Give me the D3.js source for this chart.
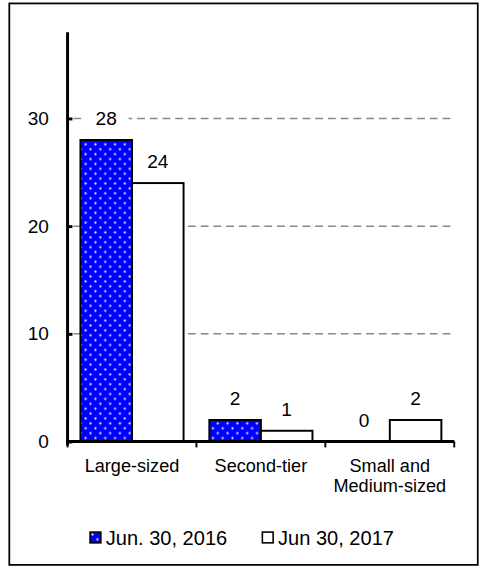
<!DOCTYPE html>
<html>
<head>
<meta charset="utf-8">
<script src="https://cdn.jsdelivr.net/npm/d3@7"></script>
<style>
  html, body { margin: 0; padding: 0; background: #fff; }
  svg { display: block; font-family: "Liberation Sans", Arial, sans-serif; }
</style>
</head>
<body>
<svg id="chart" width="484" height="578"></svg>
<script>
const categories = ["Large-sized", "Second-tier", "Small and\nMedium-sized"];
const seriesNames = ["Jun. 30, 2016", "Jun 30, 2017"];
const values2016 = [28, 2, 0];
const values2017 = [24, 1, 2];
const yTicks = [0, 10, 20, 30];
const yMax = 38;

const root = d3.select("#chart").append("g").attr("transform", "scale(0.979)");
const svg = root;

// frame
svg.append("rect").attr("x", 9.5).attr("y", 3.5).attr("width", 478.5).attr("height", 573.5)
  .attr("fill", "none").attr("stroke", "#000").attr("stroke-width", 1.8);

const defs = d3.select("#chart").append("defs");
const pat = defs.append("pattern").attr("id", "dots")
  .attr("width", 10).attr("height", 10).attr("patternUnits", "userSpaceOnUse");
pat.append("rect").attr("width", 10).attr("height", 10).attr("fill", "#0000ff");
pat.append("circle").attr("cx", 2.5).attr("cy", 2.5).attr("r", 1.15).attr("fill", "#e6e6ff");
pat.append("circle").attr("cx", 7.5).attr("cy", 7.5).attr("r", 1.15).attr("fill", "#e6e6ff");

const x0 = 69, x1 = 464, yBase = 451, yTop = 33;
const x = d3.scaleBand().domain(categories).range([x0, x1]).paddingInner(0).paddingOuter(0);
const xs = d3.scaleBand().domain(seriesNames).range([0, x.bandwidth()]).paddingInner(0).paddingOuter(0.25);
const y = d3.scaleLinear().domain([0, yMax]).range([yBase, yTop]);

// gridlines
svg.append("g").selectAll("line").data(yTicks.filter(d => d > 0)).join("line")
  .attr("x1", x0 + 6).attr("x2", x1 - 1)
  .attr("y1", d => y(d)).attr("y2", d => y(d))
  .attr("stroke", "#888").attr("stroke-width", 1.5).attr("stroke-dasharray", "8,5");

const rows = categories.map((c, i) => [
  { cat: c, s: seriesNames[0], v: values2016[i] },
  { cat: c, s: seriesNames[1], v: values2017[i] }
]).flat();

// label backgrounds (hide gridlines behind data labels)
svg.append("g").selectAll("rect").data(rows).join("rect")
  .attr("x", d => x(d.cat) + xs(d.s) + xs.bandwidth() / 2 - 23)
  .attr("y", d => y(d.v) - 22 - 10)
  .attr("width", 46).attr("height", 20).attr("fill", "#fff");

// bars
svg.append("g").selectAll("rect").data(rows.filter(d => d.v > 0)).join("rect")
  .attr("x", d => x(d.cat) + xs(d.s))
  .attr("y", d => y(d.v))
  .attr("width", xs.bandwidth())
  .attr("height", d => y(0) - y(d.v))
  .attr("fill", d => d.s === seriesNames[0] ? "url(#dots)" : "#fff")
  .attr("stroke", "#000").attr("stroke-width", 2);

// data labels
svg.append("g").selectAll("text").data(rows).join("text")
  .attr("x", d => x(d.cat) + xs(d.s) + xs.bandwidth() / 2)
  .attr("y", d => y(d.v) - 22)
  .attr("dy", "0.35em")
  .attr("text-anchor", "middle")
  .attr("font-size", 19.5).attr("fill", "#000")
  .text(d => d.v);

// y axis
const yAxis = d3.axisLeft(y).tickValues(yTicks).tickFormat(d3.format("d"))
  .tickSizeInner(-5).tickSizeOuter(0).tickPadding(19);
const gy = svg.append("g").attr("transform", `translate(${x0},0)`).call(yAxis);
gy.select(".domain").attr("stroke", "#000").attr("stroke-width", 3)
  .attr("d", `M0,${yTop}V${yBase + 4}`);
gy.selectAll(".tick line").attr("stroke", "#000").attr("stroke-width", 3);
gy.selectAll(".tick text").attr("font-size", 19.5).attr("fill", "#000")
  .attr("font-family", "Liberation Sans, Arial, sans-serif");

// x axis
const gx = svg.append("g");
gx.append("line").attr("x1", x0 - 1.5).attr("x2", x1).attr("y1", yBase).attr("y2", yBase)
  .attr("stroke", "#000").attr("stroke-width", 3);
const bounds = categories.map(c => x(c)).concat([x.range()[1]]);
gx.selectAll("line.tk").data(bounds).join("line").attr("class", "tk")
  .attr("x1", d => d).attr("x2", d => d).attr("y1", yBase).attr("y2", yBase + 6)
  .attr("stroke", "#000").attr("stroke-width", 2);
const xl = gx.selectAll("text").data(categories).join("text")
  .attr("x", d => x(d) + x.bandwidth() / 2)
  .attr("y", 482)
  .attr("text-anchor", "middle").attr("font-size", 18.5).attr("fill", "#000");
xl.each(function(d) {
  const parts = d.split("\n");
  d3.select(this).selectAll("tspan").data(parts).join("tspan")
    .attr("x", x(d) + x.bandwidth() / 2)
    .attr("dy", (p, i) => i === 0 ? 0 : 21)
    .text(p => p);
});

// legend
const legendX = [92, 268];
const lg = svg.append("g").selectAll("g").data(seriesNames).join("g")
  .attr("transform", (d, i) => `translate(${legendX[i]},543.5)`);
lg.append("rect").attr("width", 11).attr("height", 11)
  .attr("fill", (d, i) => i === 0 ? "url(#dots)" : "#fff")
  .attr("stroke", "#000").attr("stroke-width", 1.6);
lg.append("text").attr("x", 16).attr("y", 5.5).attr("dy", "0.36em")
  .attr("font-size", 20.5).attr("fill", "#000").text(d => d);
</script>
</body>
</html>
